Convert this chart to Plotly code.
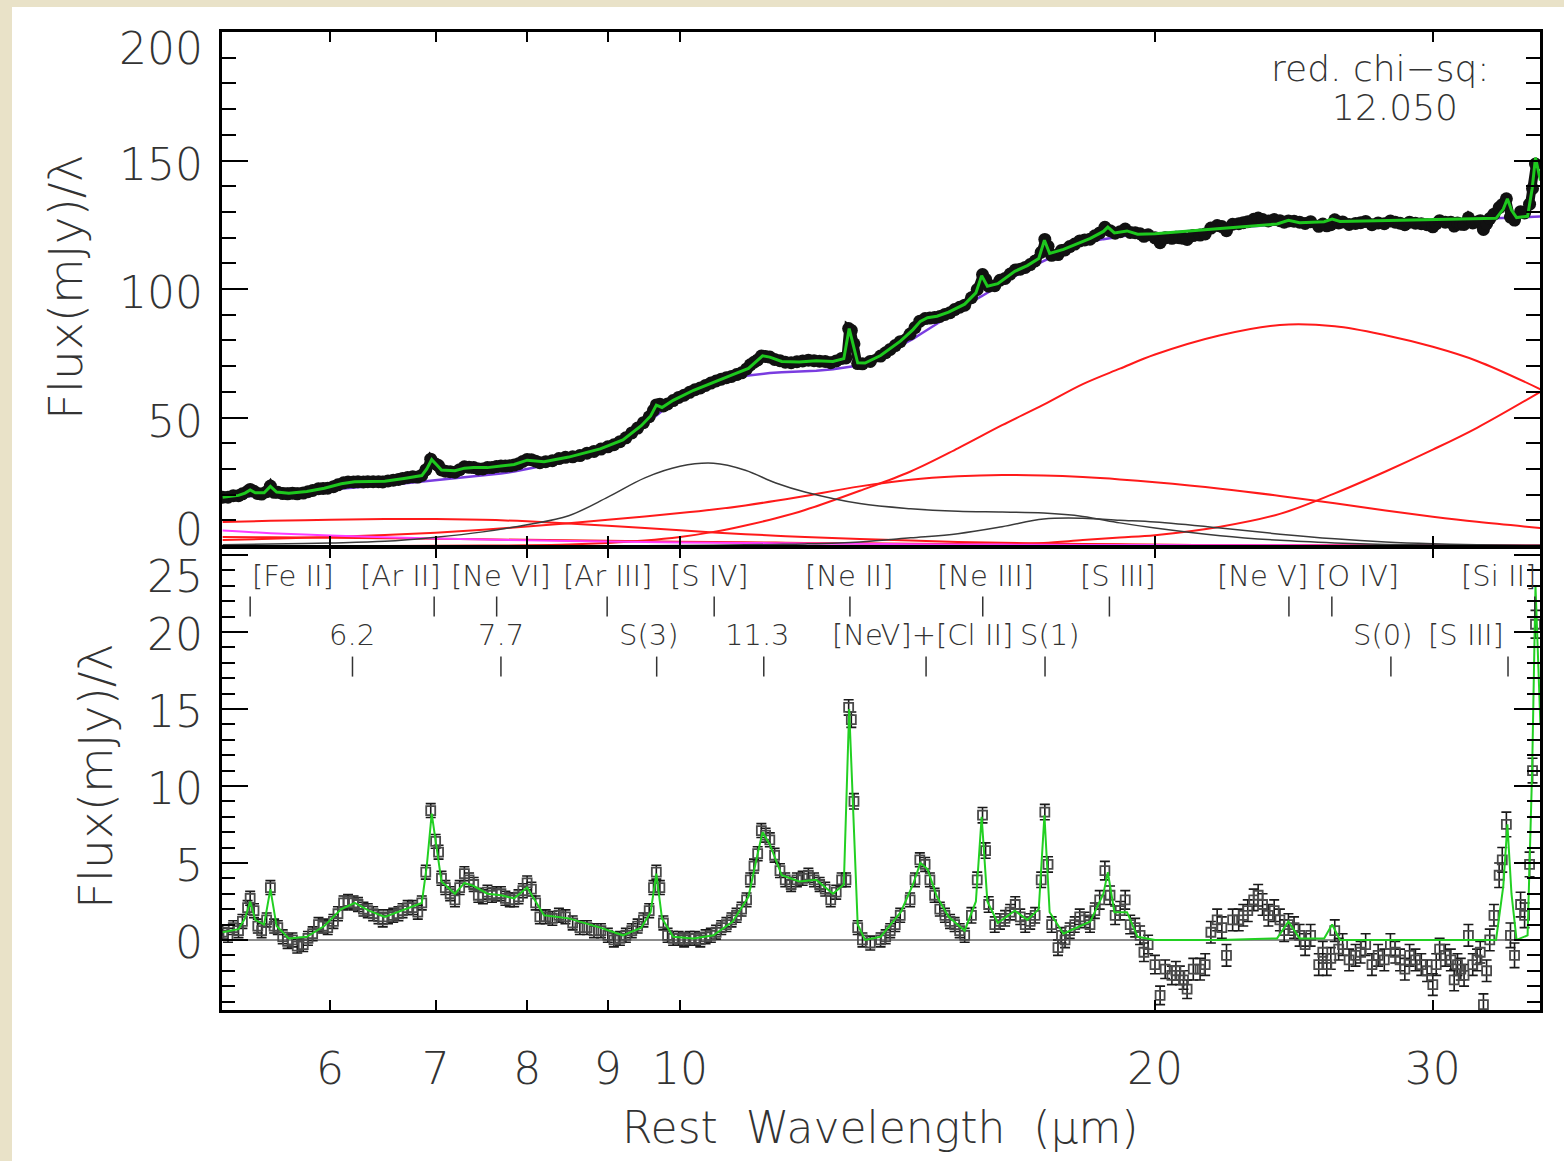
import math
import plotly.graph_objects as go

# ---------------- observed spectrum: short-wavelength module (micron) ----------------
wave_sl = [5.13, 5.17, 5.21, 5.25, 5.28, 5.32, 5.34, 5.37, 5.40, 5.43, 5.47, 5.50, 5.53, 5.56, 5.60,
           5.64, 5.68, 5.72, 5.77, 5.81, 5.85, 5.90, 5.94, 5.98, 6.03, 6.07, 6.12, 6.16, 6.21, 6.25,
           6.30, 6.34, 6.39, 6.44, 6.48, 6.53, 6.58, 6.63, 6.67, 6.72, 6.77, 6.82, 6.86, 6.90, 6.95,
           7.00, 7.03, 7.06, 7.10, 7.15, 7.20, 7.25, 7.30, 7.35, 7.40, 7.45, 7.50, 7.55, 7.60, 7.65,
           7.70, 7.75, 7.80, 7.85, 7.90, 7.95, 8.00, 8.05, 8.10, 8.15, 8.22, 8.30, 8.38, 8.46, 8.55,
           8.64, 8.73, 8.82, 8.91, 9.00, 9.08, 9.16, 9.24, 9.32, 9.40, 9.48, 9.56, 9.62, 9.66, 9.71,
           9.76, 9.82, 9.90, 9.98, 10.06, 10.14, 10.22, 10.30, 10.38, 10.46, 10.54, 10.62, 10.70, 10.78, 10.86,
           10.94, 11.02, 11.08, 11.14, 11.20, 11.26, 11.33, 11.40, 11.48, 11.57, 11.66, 11.76, 11.86, 11.96, 12.06,
           12.16, 12.26, 12.36, 12.46, 12.56, 12.66, 12.74, 12.79, 12.84, 12.89, 12.96,
           13.05, 13.20, 13.40, 13.50, 13.59, 13.69, 13.79, 13.99]

flux_sl = [19.0, 19.0, 19.6, 19.6, 20.3, 21.3, 22.0, 21.3, 20.4, 20.2, 21.1, 23.3, 20.9, 20.9, 20.4,
           20.3, 20.5, 20.3, 20.6, 21.1, 21.6, 22.3, 22.4, 22.5, 23.1, 23.8, 24.6, 24.9, 24.9, 25.0,
           24.9, 25.0, 25.0, 25.0, 24.9, 25.3, 25.6, 25.9, 26.3, 26.7, 26.9, 26.8, 27.5, 29.6, 33.8,
           31.9, 31.3, 29.6, 29.1, 28.9, 28.7, 29.7, 30.8, 30.6, 30.5, 30.0, 30.0, 30.5, 30.5, 30.9,
           31.1, 31.1, 31.2, 31.5, 32.0, 32.9, 33.7, 33.6, 33.0, 32.4, 32.8, 33.2, 34.0, 34.5, 34.7,
           35.2, 36.1, 36.8, 37.7, 38.6, 39.4, 40.6, 42.1, 44.0, 45.9, 48.0, 50.3, 52.8, 54.9, 55.2,
           54.5, 55.3, 56.6, 57.8, 58.7, 59.8, 60.8, 61.5, 62.5, 63.4, 64.2, 64.9, 65.5, 66.0, 66.7,
           67.4, 68.9, 70.5, 71.5, 72.4, 73.9, 73.7, 73.5, 72.6, 72.1, 71.5, 71.3, 71.7, 72.0, 72.3,
           72.1, 71.9, 71.8, 71.3, 72.0, 73.0, 73.2, 84.6, 83.9, 78.7, 71.0,
           70.9, 71.8, 73.9, 75.2, 76.5, 78.0, 79.5, 82.5]

resid_sl = [0.5, 0.3, 0.8, 0.6, 1.2, 2.1, 2.7, 1.9, 0.9, 0.6, 1.3, 3.4, 0.9, 0.8, 0.2,
            -0.1, 0.0, -0.4, -0.3, 0.1, 0.4, 1.0, 0.9, 0.8, 1.2, 1.7, 2.4, 2.5, 2.4, 2.3,
            2.0, 1.9, 1.7, 1.5, 1.3, 1.5, 1.6, 1.7, 1.9, 2.1, 2.1, 1.8, 2.4, 4.4, 8.4,
            6.4, 5.7, 4.0, 3.4, 3.0, 2.6, 3.4, 4.3, 3.9, 3.6, 2.9, 2.8, 3.1, 2.9, 3.0,
            3.0, 2.7, 2.6, 2.6, 2.8, 3.2, 3.7, 3.3, 2.4, 1.5, 1.5, 1.4, 1.6, 1.5, 1.1,
            0.8, 0.8, 0.6, 0.6, 0.3, 0.0, 0.1, 0.3, 0.6, 0.9, 1.3, 1.9, 3.4, 4.4, 3.4,
            1.1, 0.3, 0.1, 0.1, 0.0, 0.1, 0.1, 0.0, 0.2, 0.3, 0.5, 0.8, 1.0, 1.3, 1.6,
            2.0, 2.6, 3.9, 4.8, 5.6, 7.1, 6.8, 6.5, 5.5, 4.5, 3.9, 3.6, 3.9, 4.0, 4.2,
            3.9, 3.6, 3.3, 2.6, 3.1, 3.9, 3.9, 15.1, 14.3, 9.0, 0.8,
            0.0, -0.2, 0.0, 0.2, 0.6, 1.0, 1.6, 2.6]

err_sl = [0.45] * 127 + [0.5, 0.5, 0.5] + [0.45] * 9

# ---------------- observed spectrum: long-wavelength module ----------------
wave_ll = [14.09, 14.19, 14.30, 14.40, 14.50, 14.61, 14.72, 14.83, 14.93, 15.04, 15.15, 15.30, 15.43, 15.55, 15.62,
           15.69, 15.83, 15.95, 16.07, 16.19, 16.31, 16.43, 16.55, 16.67, 16.79, 16.94, 17.03, 17.11, 17.20, 17.36,
           17.45, 17.54, 17.66, 17.79, 17.92, 18.05, 18.19, 18.32, 18.45, 18.59, 18.73, 18.87, 19.01, 19.15, 19.29,
           19.43, 19.57, 19.68, 19.80, 20.00, 20.15, 20.30, 20.50, 20.62, 20.74, 20.85, 20.96, 21.15, 21.36, 21.52,
           21.70, 21.90, 22.05, 22.20, 22.40, 22.60, 22.75, 22.90, 23.10, 23.25, 23.40, 23.60, 23.80, 24.00, 24.15,
           24.30, 24.50, 24.70, 24.90, 25.10, 25.40, 25.55, 25.70, 25.85, 26.00, 26.15, 26.30, 26.55, 26.80, 27.00,
           27.20, 27.45, 27.70, 27.95, 28.20, 28.40, 28.60, 28.80, 29.00, 29.25, 29.50, 29.75, 30.00, 30.15, 30.30,
           30.55, 30.80, 30.95, 31.10, 31.25, 31.40, 31.60, 31.80, 32.00, 32.15, 32.30, 32.45, 32.60, 32.80, 33.05,
           33.20, 33.40, 33.60, 33.80, 34.10, 34.30, 34.55, 34.70, 34.85]

flux_ll = [85.0, 87.5, 88.5, 88.7, 88.9, 89.3, 90.1, 90.8, 92.0, 92.9, 93.7, 96.6, 99.8, 105.6, 103.8,
           101.1, 101.3, 103.4, 104.1, 105.8, 107.4, 107.7, 108.4, 109.5, 110.9, 114.3, 119.3, 116.6, 113.1, 113.4,
           115.0, 115.2, 116.5, 117.5, 118.7, 119.1, 119.4, 120.7, 121.8, 124.0, 122.7, 121.7, 122.3, 123.3, 122.0,
           121.9, 121.5, 120.5, 121.1, 119.9, 118.0, 119.9, 119.7, 120.1, 119.9, 119.7, 119.3, 120.8, 121.0, 121.4,
           123.7, 124.7, 124.3, 122.7, 125.2, 125.4, 125.8, 126.2, 127.1, 127.6, 127.0, 126.5, 127.0, 126.6, 126.0,
           126.5, 126.4, 126.0, 125.5, 126.2, 124.4, 125.3, 124.6, 125.0, 126.9, 125.7, 126.1, 125.1, 125.5, 125.8,
           126.3, 125.0, 125.7, 125.4, 126.5, 126.0, 125.6, 125.0, 126.0, 125.6, 125.4, 125.0, 124.2, 125.4, 126.6,
           126.0, 126.0, 124.5, 125.7, 125.2, 125.1, 127.7, 125.7, 126.1, 126.6, 123.2, 125.4, 127.4, 129.1, 131.7,
           132.8, 135.1, 128.0, 126.8, 130.1, 129.6, 133.0, 139.1, 148.6]

resid_ll = [3.9, 5.2, 4.9, 3.9, 2.9, 2.0, 1.6, 1.2, 1.0, 0.6, 0.3, 1.6, 3.9, 8.1, 5.8,
            2.3, 1.0, 1.2, 1.4, 1.8, 2.3, 1.5, 1.0, 1.2, 1.6, 3.9, 8.3, 4.9, 1.0, -0.5,
            0.3, 0.0, 0.6, 1.0, 1.5, 1.3, 1.0, 1.9, 2.6, 4.5, 2.9, 1.6, 1.9, 2.6, 1.0,
            0.8, 0.3, -0.8, -0.3, -1.6, -3.6, -1.9, -2.3, -2.0, -2.3, -2.6, -3.2, -1.9, -1.9, -1.6,
            0.5, 1.3, 0.8, -1.0, 1.3, 1.3, 1.6, 1.9, 2.6, 2.9, 2.3, 1.6, 1.9, 1.3, 0.6,
            1.0, 0.8, 0.3, -0.3, 0.3, -1.6, -0.8, -1.6, -1.2, 0.6, -0.6, -0.3, -1.3, -1.0, -0.8,
            -0.3, -1.6, -1.0, -1.3, -0.3, -0.8, -1.3, -1.9, -1.0, -1.3, -1.6, -2.0, -2.9, -1.6, -0.6,
            -1.0, -1.3, -2.6, -1.6, -1.9, -2.3, 0.3, -1.6, -1.3, -0.8, -4.2, -2.0, 0.0, 1.6, 4.2,
            5.2, 7.5, 0.3, -1.0, 2.3, 1.6, 4.9, 11.0, 20.5]

err_ll = [0.45] * 11 + [0.5] * 27 + [0.6] * 19 + [0.7] * 62 + [0.8] * 9 + [0.9]

# ---------------- fitted model ----------------
model_wave = [5.13, 5.25, 5.30, 5.34, 5.38, 5.45, 5.50, 5.55, 5.65, 5.80, 5.95, 6.10, 6.22, 6.35, 6.50,
              6.70, 6.86, 6.91, 6.96, 7.01, 7.06, 7.20, 7.30, 7.40, 7.55, 7.70, 7.85, 8.00, 8.10, 8.20,
              8.50, 8.90, 9.20, 9.45, 9.58, 9.66, 9.74, 9.90, 10.20, 10.50, 10.80, 11.05, 11.20, 11.28, 11.40,
              11.60, 11.90, 12.20, 12.50, 12.70, 12.80, 12.88, 12.96, 13.10, 13.40, 13.80, 14.05, 14.20, 14.35, 14.55,
              14.80, 15.15, 15.40, 15.53, 15.66, 15.90, 16.30, 16.60, 16.88, 17.02, 17.15, 17.50, 18.20, 18.55, 18.67,
              18.85, 19.20, 19.50, 20.00, 22.00, 23.90, 24.30, 24.70, 25.60, 25.90, 26.20, 32.90, 33.25, 33.45, 33.65,
              33.90, 34.45, 34.68, 34.85, 35.10]

# emission lines + PAH features above the continuum
model_lines = [0.5, 0.7, 1.4, 2.5, 1.3, 1.0, 3.3, 0.9, 0.1, 0.2, 0.9, 2.0, 2.4, 1.9, 1.5,
               2.0, 2.4, 4.8, 8.2, 6.0, 3.8, 3.0, 3.7, 3.5, 3.0, 2.9, 2.7, 3.4, 2.5, 1.6,
               1.4, 0.8, 0.3, 0.8, 1.8, 4.3, 1.4, 0.2, 0.1, 0.3, 1.2, 2.8, 5.6, 7.0, 6.2,
               4.2, 3.8, 3.9, 3.0, 3.6, 15.0, 8.5, 1.0, 0.0, 0.2, 1.8, 3.6, 5.0, 4.6, 2.8,
               1.5, 0.6, 2.5, 8.0, 2.5, 1.1, 1.9, 1.3, 2.0, 8.1, 1.8, 0.4, 1.2, 3.0, 4.4,
               1.8, 1.8, 0.2, 0.0, 0.0, 0.1, 1.2, 0.1, 0.1, 1.0, 0.0, 0.0, 3.5, 7.5, 3.0,
               0.0, 0.3, 11.0, 23.0, 14.0]

# total continuum (dust + stars)
model_cont = [18.5, 19.0, 19.2, 19.3, 19.4, 19.7, 19.9, 20.1, 20.4, 21.0, 21.6, 22.2, 22.6, 23.1, 23.7,
              24.4, 25.0, 25.2, 25.4, 25.6, 25.8, 26.3, 26.6, 27.0, 27.5, 28.2, 29.0, 30.0, 30.6, 31.2,
              33.2, 37.0, 41.0, 46.0, 48.8, 50.5, 52.5, 56.5, 60.5, 63.5, 65.5, 66.3, 66.8, 67.0, 67.3,
              67.6, 67.8, 68.2, 68.8, 69.3, 69.6, 69.9, 70.3, 71.2, 73.9, 78.0, 80.6, 82.4, 84.2, 86.6,
              89.5, 93.5, 96.0, 97.2, 98.6, 101.0, 105.0, 107.8, 109.9, 110.9, 112.0, 115.0, 118.5, 119.4, 119.7,
              120.0, 120.8, 121.1, 121.5, 123.5, 125.2, 125.5, 125.7, 126.1, 126.2, 126.3, 127.5, 127.6, 127.6, 127.7,
              127.8, 128.0, 128.0, 128.1, 128.2]

# full model (continuum + features)
model_total = [19.0, 19.7, 20.6, 21.8, 20.7, 20.7, 23.2, 21.0, 20.5, 21.2, 22.5, 24.2, 25.0, 25.0, 25.2,
               26.4, 27.4, 30.0, 33.6, 31.6, 29.6, 29.3, 30.3, 30.5, 30.5, 31.1, 31.7, 33.4, 33.1, 32.8,
               34.6, 37.8, 41.3, 46.8, 50.6, 54.8, 53.9, 56.7, 60.6, 63.8, 66.7, 69.1, 72.4, 74.0, 73.5,
               71.8, 71.6, 72.1, 71.8, 72.9, 84.6, 78.4, 71.3, 71.2, 74.1, 79.8, 84.2, 87.4, 88.8, 89.4,
               91.0, 94.1, 98.5, 105.2, 101.1, 102.1, 106.9, 109.1, 111.9, 119.0, 113.8, 115.4, 119.7, 122.4, 124.1,
               121.8, 122.6, 121.3, 121.5, 123.5, 125.3, 126.7, 125.8, 126.2, 127.2, 126.3, 127.5, 131.1, 135.1, 130.7,
               127.8, 128.3, 139.0, 151.1, 142.2]

# ---------------- continuum components ----------------
comp_wave = [5.13, 5.5, 6.0, 6.5, 7.0, 7.5, 8.0, 8.5, 9.0, 9.5, 10.0, 10.5, 11.0, 11.5, 12.0,
             13.0, 14.0, 15.0, 16.0, 17.0, 18.0, 19.0, 20.0, 22.0, 24.0, 26.0, 28.0, 30.0, 32.0, 35.1]
stellar = [6.0, 5.0, 4.1, 3.4, 2.9, 2.5, 2.2, 1.95, 1.75, 1.55, 1.4, 1.28, 1.18, 1.08, 1.0,
           0.85, 0.72, 0.62, 0.55, 0.48, 0.43, 0.39, 0.35, 0.29, 0.25, 0.21, 0.18, 0.16, 0.14, 0.12]
dust_hot = [9.3, 9.8, 10.2, 10.5, 10.5, 10.2, 9.6, 8.8, 7.9, 7.0, 6.1, 5.3, 4.6, 4.0, 3.5,
            2.7, 2.1, 1.6, 1.3, 1.0, 0.8, 0.65, 0.5, 0.35, 0.25, 0.2, 0.15, 0.1, 0.08, 0.05]
dust_faint = [3.5, 3.4, 3.2, 3.0, 2.8, 2.6, 2.4, 2.2, 2.0, 1.85, 1.7, 1.55, 1.45, 1.35, 1.2,
              1.05, 0.9, 0.8, 0.7, 0.62, 0.55, 0.5, 0.45, 0.38, 0.33, 0.29, 0.25, 0.2, 0.18, 0.15]
dust_warm = [2.3, 2.8, 3.5, 4.3, 5.2, 6.3, 7.6, 8.9, 10.2, 11.5, 12.8, 14.2, 15.8, 17.6, 19.5,
             23.2, 25.8, 27.1, 27.6, 27.4, 26.8, 25.9, 24.8, 22.3, 19.5, 16.6, 13.8, 11.4, 9.4, 7.0]
dust_cool = [0.0, 0.0, 0.0, 0.0, 0.05, 0.15, 0.3, 0.6, 1.2, 2.1, 3.5, 5.5, 8.0, 10.8, 14.0,
             21.5, 29.0, 38.0, 47.0, 55.0, 63.0, 69.0, 74.5, 82.0, 86.0, 85.5, 82.0, 77.5, 72.0, 61.0]
dust_cold = [0.0, 0.0, 0.0, 0.0, 0.0, 0.0, 0.0, 0.0, 0.0, 0.0, 0.0, 0.0, 0.0, 0.0, 0.0,
             0.05, 0.1, 0.25, 0.5, 1.2, 2.3, 3.3, 4.2, 7.5, 12.5, 20.5, 29.0, 37.5, 46.0, 60.0]
sil_10 = [0.5, 0.8, 1.2, 1.8, 3.4, 5.5, 8.3, 11.8, 19.0, 26.5, 31.0, 32.2, 29.5, 24.5, 21.0,
          16.5, 14.5, 13.5, 13.2, 12.8, 11.5, 9.0, 7.0, 4.0, 2.2, 1.2, 0.6, 0.35, 0.2, 0.1]
sil_18 = [0.0, 0.0, 0.0, 0.0, 0.0, 0.0, 0.0, 0.0, 0.05, 0.1, 0.2, 0.3, 0.45, 0.6, 0.8,
          1.6, 3.2, 4.8, 7.5, 10.5, 10.8, 10.0, 9.3, 7.0, 4.6, 2.8, 1.6, 0.9, 0.5, 0.25]

# ---------------- line identifications ----------------
id_names_top = ["[Fe II]", "[Ar II]", "[Ne VI]", "[Ar III]", "[S IV]", "[Ne II]",
                "[Ne III]", "[S III]", "[Ne V]", "[O IV]", "[Si II]"]
id_wave_top = [5.34, 6.985, 7.652, 8.991, 10.511, 12.814, 15.555, 18.713, 24.318, 25.890, 34.815]
id_names_bot = ["6.2", "7.7", "S(3)", "11.3", "[NeV]+[Cl II]", "S(1)", "S(0)", "[S III]"]
id_wave_bot = [6.2, 7.7, 9.665, 11.3, 14.32, 17.035, 28.22, 33.48]

# axis ticks
x_ticks = [6, 7, 8, 9, 10, 20, 30]
y_ticks_top = [0, 50, 100, 150, 200]
y_ticks_bot = [0, 5, 10, 15, 20, 25]
chi_label = "red. chi\u2212sq:"
chi_value = "12.050"

# ---------------- styling / layout ----------------
FONT = "DejaVu Sans"
FW = 200
TXT = "#333333"
W, H = 1564, 1161
ML, MR, MT, MB = 222, 24, 32, 151
PW, PH = W - ML - MR, H - MT - MB
XR = [math.log10(5.125), math.log10(35.08)]


def px(xp):
    return (xp - ML) / PW


def py(yp):
    return (H - MB - yp) / PH


def tfont(size):
    return dict(family=FONT, size=size, color=TXT, weight=FW)


fig = go.Figure()

RED = "#ff1a1a"
# continuum components (top panel)
for comp in (dust_hot, dust_faint, dust_warm, dust_cool, dust_cold):
    fig.add_trace(go.Scatter(x=comp_wave, y=comp, mode="lines", line=dict(color=RED, width=2, shape="spline"),
                             xaxis="x", yaxis="y", hoverinfo="skip"))
fig.add_trace(go.Scatter(x=comp_wave, y=stellar, mode="lines", line=dict(color="#ff3cff", width=2, shape="spline"),
                         xaxis="x", yaxis="y", hoverinfo="skip"))
for comp in (sil_10, sil_18):
    fig.add_trace(go.Scatter(x=comp_wave, y=comp, mode="lines", line=dict(color="#3a3a3a", width=1.5, shape="spline"),
                             xaxis="x", yaxis="y", hoverinfo="skip"))

fig.add_trace(go.Scatter(x=model_wave, y=model_cont, mode="lines", line=dict(color="#7a3ce0", width=2.5),
                         xaxis="x", yaxis="y", hoverinfo="skip"))

# observed spectrum, drawn as a dense band of points
for wv, fl in ((wave_sl, flux_sl), (wave_ll, flux_ll)):
    fig.add_trace(go.Scatter(x=wv, y=fl, mode="lines+markers",
                             line=dict(color="#111111", width=9),
                             marker=dict(symbol="circle", size=13, color="#111111"),
                             xaxis="x", yaxis="y", hoverinfo="skip"))
fig.add_trace(go.Scatter(x=model_wave, y=model_total, mode="lines", line=dict(color="#1ec81e", width=3),
                         xaxis="x", yaxis="y", hoverinfo="skip"))

# lower panel: residual spectrum with errors and feature model
for wv, rs, er in ((wave_sl, resid_sl, err_sl), (wave_ll, resid_ll, err_ll)):
    fig.add_trace(go.Scatter(x=wv, y=rs, mode="markers",
                             marker=dict(symbol="square-open", size=9, color="#4a4a4a", line=dict(width=1.8)),
                             error_y=dict(type="data", array=er, color="#1a1a1a", thickness=1.6, width=5),
                             xaxis="x2", yaxis="y2", hoverinfo="skip"))
fig.add_trace(go.Scatter(x=model_wave, y=model_lines, mode="lines", line=dict(color="#22d022", width=2),
                         xaxis="x2", yaxis="y2", hoverinfo="skip"))

# identification ticks
tx, ty = [], []
for w in id_wave_top:
    tx += [w, w, None]
    ty += [22.3, 21.0, None]
for w in id_wave_bot:
    tx += [w, w, None]
    ty += [18.4, 17.1, None]
fig.add_trace(go.Scatter(x=tx, y=ty, mode="lines", line=dict(color="#333333", width=1.5),
                         xaxis="x2", yaxis="y2", hoverinfo="skip"))

ann = []
shift_top = [43, -34, 4, 0, -5, 0, 3, 9, -26, 26, -36]
for name, w, dx in zip(id_names_top, id_wave_top, shift_top):
    ann.append(dict(x=math.log10(w), y=23.6, xref="x2", yref="y2", text=name, showarrow=False,
                    xshift=dx, font=tfont(29), xanchor="center", yanchor="middle"))
shift_bot = [0, 0, -8, -6, -4, 5, -8, -42]
for name, w, dx in zip(id_names_bot, id_wave_bot, shift_bot):
    ann.append(dict(x=math.log10(w), y=19.8, xref="x2", yref="y2", text=name, showarrow=False,
                    xshift=dx, font=tfont(29), xanchor="center", yanchor="middle"))

# y tick labels
for v in y_ticks_top:
    sh = 17 if v == 0 else (-16 if v == 200 else -3)
    ann.append(dict(x=0, y=v, xref="paper", yref="y", text=str(v), showarrow=False, xanchor="right",
                    yanchor="middle", xshift=-17, yshift=sh, height=36, font=tfont(44)))
for v in y_ticks_bot:
    sh = -21 if v == 25 else -2
    ann.append(dict(x=0, y=v, xref="paper", yref="y2", text=str(v), showarrow=False, xanchor="right",
                    yanchor="middle", xshift=-17, yshift=sh, height=36, font=tfont(44)))

# axis titles and fit statistic
centered = dict(xref="paper", yref="paper", showarrow=False, xanchor="center", yanchor="middle")
ann.append(dict(x=px(65), y=py(288), text="Flux(mJy)/\u03bb", textangle=-90, font=tfont(47), **centered))
ann.append(dict(x=px(95), y=py(777), text="Flux(mJy)/\u03bb", textangle=-90, font=tfont(47), **centered))
ann.append(dict(x=px(880), y=py(1127), text="Rest  Wavelength  (\u03bcm)", font=tfont(44), **centered))
ann.append(dict(x=px(1380), y=py(68), text=chi_label, height=42, font=tfont(36), **centered))
ann.append(dict(x=px(1395), y=py(107), text=chi_value, height=32, font=tfont(36), **centered))

axis_common = dict(showline=True, linecolor="black", linewidth=2.5, mirror="ticks", showgrid=False,
                   ticks="inside", tickcolor="black", tickwidth=2)

top_dom = [py(546), 1.0]
bot_dom = [0.0, py(548)]

fig.update_layout(
    width=W, height=H,
    margin=dict(l=ML, r=MR, t=MT, b=MB),
    paper_bgcolor="#e9e2c8", plot_bgcolor="white",
    showlegend=False,
    annotations=ann,
    shapes=[dict(type="rect", xref="paper", yref="paper", x0=px(12), x1=px(W + 10), y0=py(H + 10), y1=py(7),
                 fillcolor="white", line=dict(width=0), layer="below")],
    xaxis=dict(domain=[0, 1], anchor="y", type="log", range=XR, tickvals=x_ticks, showticklabels=False,
               ticklen=10, zeroline=False, **axis_common),
    yaxis=dict(domain=top_dom, anchor="x", range=[0, 200], tick0=0, dtick=50, ticklen=26, showticklabels=False,
               zeroline=False,
               minor=dict(dtick=10, ticklen=14, ticks="inside", tickcolor="black", tickwidth=2),
               **axis_common),
    xaxis2=dict(domain=[0, 1], anchor="y2", type="log", range=XR, tickvals=x_ticks,
                ticktext=[str(t) for t in x_ticks], ticklen=10, ticklabelstandoff=18,
                tickfont=tfont(44), zeroline=False, **axis_common),
    yaxis2=dict(domain=bot_dom, anchor="x2", range=[-4.55, 25.45], tick0=0, dtick=5, ticklen=26,
                showticklabels=False,
                minor=dict(dtick=1, ticklen=13, ticks="inside", tickcolor="black", tickwidth=2),
                zeroline=True, zerolinecolor="#8c8c8c", zerolinewidth=2, **axis_common),
)

fig.write_html("out.html")
